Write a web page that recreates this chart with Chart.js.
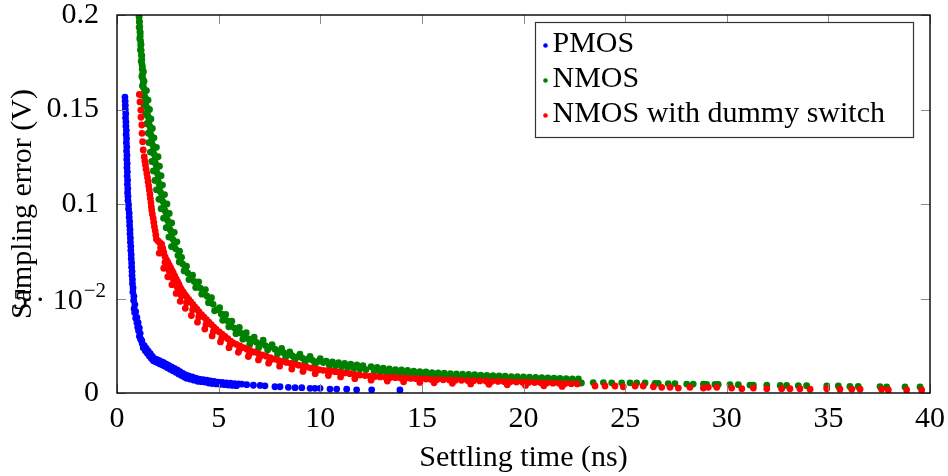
<!DOCTYPE html>
<html>
<head>
<meta charset="utf-8">
<script src="https://cdn.jsdelivr.net/npm/chart.js@4"></script>
<style>
  html, body { margin: 0; padding: 0; background: #fff; }
  canvas { display: block; }
</style>
</head>
<body>
<canvas id="chart" width="948" height="476"></canvas>
<script>
// tick values and labels
const xTicks = [0, 5, 10, 15, 20, 25, 30, 35, 40];
const yTicks = [0, 0.05, 0.1, 0.15, 0.2];
const yTickLabels = ['0', '5 · 10^−2', '0.1', '0.15', '0.2'];
const seriesNames = ['PMOS', 'NMOS', 'NMOS with dummy switch'];

// settling time (ns), sampling error (V)
const pmosPoints = [
  [0.39,.1566],[0.40,.1544],[0.41,.1522],[0.41,.1500],[0.43,.1478],[0.42,.1456],[0.44,.1434],[0.44,.1412],
  [0.46,.1390],[0.45,.1368],[0.47,.1346],[0.46,.1324],[0.48,.1302],[0.47,.1280],[0.49,.1258],[0.48,.1236],
  [0.50,.1214],[0.49,.1192],[0.51,.1170],[0.50,.1148],[0.52,.1126],[0.51,.1104],[0.53,.1082],[0.52,.1060],
  [0.54,.1040],[0.54,.1018],[0.57,.0996],[0.57,.0974],[0.60,.0952],[0.60,.0930],[0.62,.0908],[0.62,.0886],
  [0.64,.0864],[0.64,.0842],[0.66,.0820],[0.66,.0798],[0.68,.0776],[0.68,.0754],[0.70,.0732],[0.70,.0710],
  [0.72,.0688],[0.72,.0666],[0.74,.0644],[0.74,.0622],[0.76,.0600],[0.76,.0578],[0.79,.0556],[0.78,.0534],
  [0.83,.0512],[0.82,.0490],[0.88,.0468],[0.84,.0446],[0.92,.0430],[0.87,.0424],[0.98,.0400],[0.92,.0395],
  [1.04,.0372],[0.98,.0372],[1.10,.0345],[1.02,.0348],[1.06,.0330],[1.14,.0316],[1.10,.0300],[1.16,.0286],
  [1.22,.0276],[1.24,.0262],[1.34,.0250],[1.29,.0240],[1.44,.0236],[1.39,.0224],[1.54,.0222],[1.49,.0210],
  [1.64,.0208],[1.59,.0196],[1.74,.0193],[1.69,.0182],[1.84,.0182],[1.79,.0170],[1.95,.0178],[1.90,.0165],
  [2.06,.0172],[2.01,.0160],[2.18,.0166],[2.12,.0154],[2.30,.0160],[2.24,.0148],[2.42,.0153],[2.36,.0142],
  [2.54,.0146],[2.48,.0134],[2.68,.0138],[2.61,.0126],[2.82,.0130],[2.75,.0118],[2.96,.0122],[2.89,.0110],
  [3.10,.0113],[3.03,.0101],[3.24,.0104],[3.17,.0093],[3.38,.0096],[3.31,.0084],[3.52,.0090],[3.43,.0078],
  [3.70,.0085],[3.61,.0073],[3.88,.0079],[3.79,.0068],[4.06,.0073],[3.97,.0062],[4.24,.0070],[4.15,.0060],
  [4.42,.0068],[4.33,.0058],[4.60,.0064],[4.51,.0053],[4.78,.0061],[4.68,.0050],[4.98,.0058],[4.88,.0048],
  [5.18,.0056],[5.08,.0046],[5.38,.0054],[5.28,.0044],[5.58,.0052],[5.48,.0042],[5.78,.0050],[5.68,.0040],
  [5.98,.0048],[5.88,.0039],
  [1.19,.0281],[1.32,.0243],[1.47,.0223],[1.62,.0202],[1.77,.0181],[1.92,.0171],[2.09,.0163],[2.27,.0154],
  [2.45,.0147],[2.61,.0132],[2.78,.0124],[2.93,.0116],[3.07,.0107],[3.21,.0099],[3.35,.0090],[3.48,.0084],
  [3.66,.0079],[3.84,.0073],[4.02,.0068],[4.20,.0064],[4.38,.0063],
  [6.14,.0047],[6.38,.0044],[6.71,.0041],[7.04,.0040],[7.28,.0038],[7.77,.0033],[8.02,.0033],[8.43,.0030],
  [8.76,.0028],[9.09,.0028],[9.50,.0025],[9.74,.0025],[9.99,.0025],[10.48,.0021],[10.81,.0021],[11.30,.0020],
  [11.79,.0017],[12.53,.0017],[13.92,.0016]
];

const nmosPoints = [
  // outer edges of the band
  [1.08,.2000],[1.10,.1965],[1.09,.1935],[1.14,.1905],[1.12,.1875],[1.18,.1845],[1.15,.1815],[1.22,.1785],
  [1.19,.1755],[1.25,.1725],[1.30,.1700],[1.22,.1675],[1.33,.1650],[1.25,.1625],[1.45,.1600],[1.25,.1575],
  [1.53,.1550],[1.32,.1525],[1.60,.1500],[1.40,.1475],[1.67,.1450],[1.47,.1425],[1.74,.1400],[1.54,.1375],
  [1.82,.1350],[1.56,.1325],[1.94,.1300],[1.64,.1275],[2.02,.1250],[1.71,.1225],[2.09,.1200],[1.79,.1175],
  [2.17,.1150],[1.86,.1125],[2.24,.1100],[1.94,.1075],[2.34,.1050],[2.06,.1025],[2.46,.1000],[2.17,.0975],
  [2.57,.0950],[2.29,.0925],[2.69,.0900],[2.42,.0875],[2.82,.0850],[2.55,.0825],[2.95,.0800],[2.68,.0775],
  [3.08,.0750],[3.06,.0693],[3.18,.0718],[3.30,.0646],[3.42,.0671],[3.54,.0600],[3.72,.0623],[3.87,.0558],
  [4.02,.0588],[4.17,.0523],[4.35,.0547],[4.50,.0478],[4.65,.0504],[4.80,.0435],[5.05,.0451],[5.20,.0385],
  [5.35,.0416],[5.50,.0350],[5.65,.0380],[5.85,.0314],[6.02,.0347],[6.19,.0285],[6.36,.0319],[6.53,.0257],
  [6.75,.0296],[6.97,.0239],[7.19,.0279],[7.41,.0228],[7.63,.0256],[7.90,.0208],[8.10,.0236],[8.30,.0191],
  [8.50,.0218],[8.75,.0176],[9.00,.0206],[9.25,.0164],[9.50,.0194],[9.75,.0152],[10.0,.0182],
  // middle of the band
  [1.09,.1988],[1.10,.1963],[1.12,.1938],[1.13,.1913],[1.14,.1888],[1.16,.1863],[1.17,.1838],[1.19,.1813],
  [1.20,.1788],[1.22,.1763],[1.23,.1738],[1.24,.1713],[1.26,.1688],[1.27,.1663],[1.29,.1638],[1.32,.1613],
  [1.35,.1588],[1.39,.1563],[1.42,.1538],[1.46,.1513],[1.50,.1488],[1.53,.1463],[1.57,.1438],[1.61,.1413],
  [1.64,.1388],[1.68,.1363],[1.71,.1338],[1.75,.1313],[1.79,.1288],[1.83,.1263],[1.87,.1238],[1.90,.1213],
  [1.94,.1188],[1.98,.1163],[2.02,.1138],[2.05,.1113],[2.09,.1088],[2.14,.1063],[2.20,.1038],[2.26,.1013],
  [2.31,.0988],[2.37,.0963],[2.43,.0938],[2.49,.0913],[2.55,.0888],[2.62,.0863],[2.68,.0838],[2.75,.0813],
  [2.82,.0788],[2.88,.0763],[3.00,.0728],[3.12,.0705],[3.24,.0682],[3.36,.0659],[3.48,.0635],[3.63,.0609],
  [3.80,.0590],[3.95,.0572],[4.10,.0555],[4.28,.0533],[4.43,.0512],[4.58,.0491],[4.73,.0469],[4.93,.0441],
  [5.13,.0418],[5.28,.0400],[5.43,.0382],[5.58,.0364],[5.76,.0345],[5.94,.0330],[6.11,.0316],[6.28,.0302],
  [6.45,.0287],[6.64,.0276],[6.86,.0268],[7.08,.0259],[7.30,.0251],[7.52,.0242],[7.77,.0232],[8.00,.0222],
  [8.20,.0213],[8.40,.0204],[8.62,.0197],[8.88,.0191],[9.12,.0185],[9.38,.0179],[9.62,.0173],[9.88,.0167],
  [10.15,.0161],
  [10.3,.0169],[10.45,.0147],[10.6,.0165],[10.75,.0143],[10.9,.0161],[11.05,.0139],[11.2,.0157],[11.35,.0135],
  [11.5,.0153],[11.65,.0131],[11.8,.0149],[11.95,.0127],[12.1,.0145],[12.25,.0123],[12.5,.0139],[12.65,.0117],
  [12.8,.0135],[12.95,.0113],[13.1,.0131],[13.25,.0109],[13.4,.0127],[13.55,.0105],[13.7,.0124],[13.85,.0103],
  [14.0,.0122],[14.15,.0100],[14.3,.0119],[14.45,.0097],[14.6,.0116],[14.75,.0094],[14.9,.0113],[15.05,.0092],
  [15.2,.0111],[15.35,.0089],[15.5,.0108],[15.65,.0087],[15.8,.0106],[15.95,.0085],[16.1,.0105],[16.25,.0084],
  [16.4,.0103],[16.55,.0082],[16.7,.0101],[16.85,.0080],[17.0,.0100],[17.15,.0079],[17.3,.0098],[17.45,.0077],
  [17.6,.0097],[17.75,.0076],[17.9,.0095],[18.05,.0074],[18.2,.0093],[18.35,.0072],[18.5,.0092],[18.65,.0071],
  [18.8,.0090],[18.95,.0069],[19.1,.0089],[19.25,.0068],[19.4,.0087],[19.55,.0066],[19.7,.0086],[19.85,.0065],
  [20.0,.0085],[20.15,.0064],[20.3,.0084],[20.45,.0063],[20.6,.0082],[20.75,.0061],[20.9,.0081],[21.05,.0060],
  [21.2,.0080],[21.35,.0059],[21.5,.0079],[21.65,.0058],[21.8,.0077],[21.95,.0056],[22.1,.0076],[22.25,.0055],
  [22.4,.0075],[22.55,.0054],[22.7,.0074],[22.85,.0053],
  [23.43,.0055],[23.93,.0055],[24.34,.0054],[24.83,.0054],[25.24,.0054],[25.57,.0053],[25.98,.0053],[26.47,.0051],
  [26.63,.0051],[27.12,.0050],[27.45,.0050],[28.03,.0047],[28.35,.0047],[28.85,.0047],[29.01,.0046],[29.42,.0045],
  [29.58,.0045],[30.16,.0044],[30.57,.0044],[31.14,.0042],[31.31,.0042],[31.97,.0041],[32.63,.0040],[32.95,.0040],
  [33.52,.0039],[33.93,.0039],[34.92,.0037],[35.49,.0037],[36.06,.0035],[36.47,.0035],[37.54,.0034],[37.87,.0032],
  [38.77,.0032],[39.51,.0032]
];

const dummyPoints = [
  [1.10,.1580],[1.13,.1540],[1.17,.1497],[1.18,.1459],[1.22,.1418],[1.23,.1374],[1.26,.1330],[1.29,.1286],
  [1.34,.1250],[1.37,.1228],[1.40,.1206],[1.43,.1184],[1.47,.1162],[1.50,.1140],[1.53,.1118],[1.56,.1096],
  [1.59,.1074],[1.62,.1052],[1.64,.1030],[1.67,.1008],[1.69,.0986],[1.71,.0968],[1.74,.0946],[1.78,.0924],
  [1.81,.0902],[1.84,.0880],[1.88,.0858],[1.91,.0836],[1.94,.0814],[2.03,.0803],[2.11,.0795],[2.20,.0788],
  [2.25,.0766],[2.30,.0745],[2.36,.0722],[2.43,.0706],[2.50,.0692],[2.57,.0677],[2.64,.0663],[2.71,.0648],
  [2.77,.0635],[2.84,.0620],[2.91,.0604],[2.98,.0589],[3.05,.0574],[3.12,.0558],[3.18,.0545],[3.26,.0533],
  [3.34,.0521],[3.43,.0508],[3.53,.0495],[3.63,.0482],[3.73,.0469],[3.83,.0456],[3.93,.0443],[4.03,.0430],
  [4.16,.0414],[4.28,.0401],[4.40,.0388],[4.52,.0375],[4.64,.0362],[4.76,.0349],[4.88,.0336],[5.03,.0323],
  [5.17,.0311],[5.31,.0299],[5.45,.0287],[5.59,.0275],[5.71,.0265],[5.88,.0257],[6.05,.0249],[6.22,.0240],
  [6.39,.0232],[6.54,.0225],[6.74,.0217],[6.94,.0210],[7.14,.0202],[7.34,.0195],[7.54,.0187],[7.74,.0180],
  [7.94,.0172],[8.14,.0167],[8.34,.0162],[8.54,.0157],[8.74,.0152],[8.94,.0147],[9.14,.0141],[9.34,.0137],
  [9.54,.0132],[9.74,.0127],[9.94,.0123],[10.14,.0120],[10.34,.0118],[10.54,.0115],[10.74,.0113],[10.94,.0110],
  [11.2,.0106],[11.45,.0102],[11.7,.0099],[11.95,.0095],[12.2,.0092],[12.45,.0089],[12.7,.0087],[12.95,.0085],
  [13.2,.0083],[13.45,.0082],[13.7,.0081],[13.95,.0079],[14.2,.0078],[14.45,.0077],[14.7,.0076],[14.95,.0075],
  [15.2,.0074],[15.45,.0072],[15.75,.0071],[16.05,.0070],[16.35,.0069],[16.65,.0068],[16.95,.0067],[17.25,.0066],
  [17.55,.0065],[17.85,.0064],[18.15,.0063],[18.45,.0062],[18.75,.0061],[19.05,.0060],[19.35,.0059],[19.65,.0058],
  [19.95,.0057],[20.25,.0056],[20.55,.0055],[20.85,.0054],[21.15,.0053],[21.45,.0052],[21.75,.0051],[22.05,.0050],
  [22.35,.0049],[22.65,.0048],
  // the "hooks" hanging under the main band
  [2.08,.0740],[2.14,.0768],[2.30,.0660],[2.36,.0692],[2.50,.0615],[2.56,.0647],[2.70,.0573],[2.76,.0604],
  [2.91,.0527],[2.97,.0558],[3.11,.0485],[3.17,.0515],[3.36,.0448],[3.42,.0478],[3.66,.0410],[3.72,.0440],
  [3.96,.0375],[4.02,.0402],[4.32,.0338],[4.38,.0363],[4.68,.0302],[4.74,.0325],[5.09,.0270],[5.15,.0290],
  [5.51,.0240],[5.57,.0257],[5.97,.0215],[6.03,.0232],[6.46,.0193],[6.52,.0209],[6.96,.0175],[7.02,.0190],
  [7.46,.0158],[7.52,.0172],[8.00,.0142],[8.60,.0127],[9.15,.0114],[9.75,.0102],[10.4,.0092],[11.0,.0085],
  [11.7,.0076],[12.5,.0068],[13.3,.0063],[14.1,.0059],[14.9,.0056],[15.6,.0054],[16.5,.0051],[17.4,.0048],
  [18.3,.0046],[19.2,.0043],[20.1,.0040],[21.0,.0038],[21.9,.0035],
  // sparse tail
  [23.52,.0037],[24.01,.0037],[24.50,.0037],[24.91,.0033],[25.49,.0037],[25.89,.0037],[26.39,.0033],[26.80,.0030],
  [27.21,.0030],[27.62,.0026],[28.19,.0030],[28.85,.0026],[29.09,.0030],[29.51,.0030],[30.24,.0026],[30.74,.0023],
  [31.31,.0026],[31.97,.0023],[32.70,.0023],[33.11,.0023],[33.60,.0023],[34.10,.0020],[34.92,.0023],[35.57,.0020],
  [36.15,.0020],[36.56,.0020],[37.62,.0020],[37.95,.0016],[38.85,.0016],[39.59,.0016]
];

const FONT = 'Liberation Serif';
const FS = 30;
Chart.defaults.font.family = FONT;
Chart.defaults.color = '#000';

const toXY = pts => pts.map(([x, y]) => ({ x, y }));

// pgfplots-like frame, inward ticks, the 5·10^-2 label and the boxed legend
const framePlugin = {
  id: 'frame',
  afterDraw(chart){
    const ctx = chart.ctx;
    const { left, right, top, bottom } = chart.chartArea;
    const xs = chart.scales.x, ys = chart.scales.y;
    ctx.save();
    ctx.strokeStyle = '#8c8c8c';
    ctx.lineWidth = 1;
    ctx.beginPath();
    for(const v of xTicks){
      const px = Math.round(xs.getPixelForValue(v)) + 0.5;
      ctx.moveTo(px, bottom); ctx.lineTo(px, bottom - 9);
      ctx.moveTo(px, top); ctx.lineTo(px, top + 9);
    }
    for(const v of yTicks){
      const py = Math.round(ys.getPixelForValue(v)) + 0.5;
      ctx.moveTo(left, py); ctx.lineTo(left + 9, py);
      ctx.moveTo(right, py); ctx.lineTo(right - 9, py);
    }
    ctx.stroke();
    ctx.strokeStyle = '#000';
    ctx.lineWidth = 1.4;
    ctx.strokeRect(left, top, right - left, bottom - top);

    // tick labels with an exponent
    yTickLabels.forEach((lab, i) => {
      if(!lab.includes('^')) return;
      const [base, exp] = lab.split('^');
      const py = ys.getPixelForValue(yTicks[i]);
      ctx.fillStyle = '#000';
      ctx.textBaseline = 'alphabetic';
      ctx.font = `21px "${FONT}"`;
      ctx.textAlign = 'right';
      const expRight = left - 11;
      ctx.fillText(exp, expRight, py - 2);
      const ew = ctx.measureText(exp).width;
      ctx.font = `${FS}px "${FONT}"`;
      ctx.fillText(base, expRight - ew - 1, py + 10);
    });

    // legend box
    const bx = 535.5, by = 22.5, bw = 378, bh = 115;
    ctx.fillStyle = '#fff';
    ctx.fillRect(bx, by, bw, bh);
    ctx.strokeStyle = '#333';
    ctx.lineWidth = 1.2;
    ctx.strokeRect(bx, by, bw, bh);
    ctx.font = `${FS}px "${FONT}"`;
    ctx.textAlign = 'left';
    ctx.textBaseline = 'middle';
    chart.data.datasets.forEach((ds, i) => {
      const cy = by + 22 + i * 35;
      ctx.fillStyle = ds.backgroundColor;
      ctx.beginPath();
      ctx.arc(bx + 10, cy + 1, 2.3, 0, Math.PI * 2);
      ctx.fill();
      ctx.fillStyle = '#000';
      ctx.fillText(ds.label, bx + 17, cy);
    });
    ctx.restore();
  }
};

const mk = (label, pts, color, order) => ({
  label, data: toXY(pts), backgroundColor: color, borderColor: color,
  borderWidth: 0, pointRadius: 3.4, pointHoverRadius: 3.4, order
});

new Chart(document.getElementById('chart').getContext('2d'), {
  type: 'scatter',
  data: {
    datasets: [
      mk(seriesNames[0], pmosPoints, '#0000ff', 2),
      mk(seriesNames[1], nmosPoints, '#008000', 1),
      mk(seriesNames[2], dummyPoints, '#ff0000', 0)
    ]
  },
  options: {
    responsive: false,
    animation: false,
    devicePixelRatio: 1,
    layout: { padding: { top: 15, right: 18, left: 0, bottom: 0 } },
    plugins: { legend: { display: false }, tooltip: { enabled: false } },
    scales: {
      x: {
        type: 'linear', min: 0, max: 40,
        afterBuildTicks: s => { s.ticks = xTicks.map(v => ({ value: v })); },
        afterFit: s => { s.height = 83; s.paddingLeft = 0; s.paddingRight = 0; },
        grid: { display: false },
        border: { display: false },
        ticks: { font: { size: FS, lineHeight: 1 }, color: '#000', padding: 3, maxRotation: 0,
                 callback: v => String(v) },
        title: { display: true, text: 'Settling time (ns)', color: '#000',
                 font: { size: FS, lineHeight: 1.2 }, padding: { top: 0, bottom: 0 } }
      },
      y: {
        type: 'linear', min: 0, max: 0.2,
        afterBuildTicks: s => { s.ticks = yTicks.map(v => ({ value: v })); },
        afterFit: s => { s.width = 117; s.paddingTop = 0; s.paddingBottom = 0; },
        grid: { display: false },
        border: { display: false },
        ticks: { font: { size: FS, lineHeight: 1 }, color: '#000', padding: 10,
                 callback: (v, i) => yTickLabels[i].includes('^') ? '' : yTickLabels[i] },
        title: { display: true, text: 'Sampling error (V)', color: '#000',
                 font: { size: FS, lineHeight: 1.2 }, padding: { top: 5, bottom: 0 } }
      }
    }
  },
  plugins: [framePlugin]
});
</script>
</body>
</html>
